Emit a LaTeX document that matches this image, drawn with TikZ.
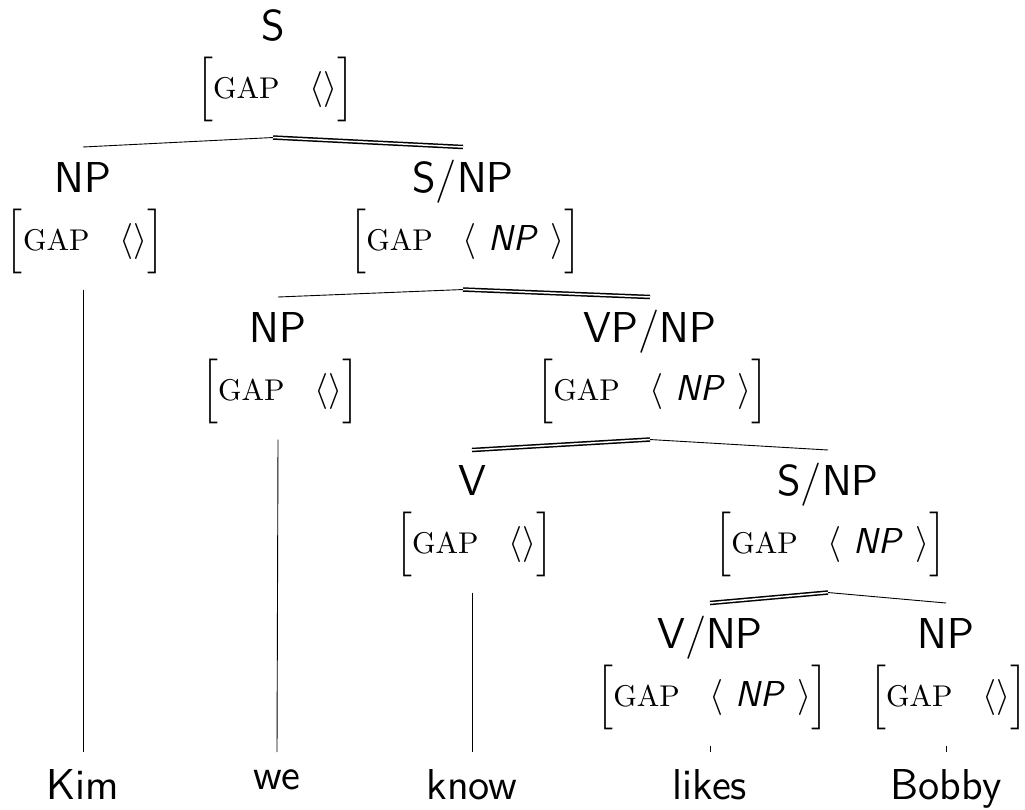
\documentclass[tikz,border=0pt]{standalone}
\usepackage{amsmath}
\usepackage{exscale}
\usetikzlibrary{positioning}

\newcommand{\cat}[1]{\raisebox{0pt}[10pt][0pt]{\fontsize{14.4}{17}\selectfont\sffamily #1}}
\newcommand{\avmgap}[1]{\hspace*{1.5pt}$\Bigl[\text{\fontsize{10}{12}\selectfont GAP}\hspace{10pt}\langle #1\rangle\Bigr]$}
\newcommand{\gapnp}{\ \textsf{\textit{NP}}\ }

\tikzset{
	tnode/.style={align=center, inner xsep=4pt, inner ysep=4.9pt, anchor=north,
		font={\fontsize{12}{19.5}\selectfont\lineskiplimit=-30pt}},
	word/.style={font=\fontsize{14.4}{17}\selectfont\sffamily, inner sep=5.6pt, anchor=north},
	branch/.style={line width=0.3pt},
	head/.style={line width=0.5pt, double, double distance=0.5pt},
}

\begin{document}
\begin{tikzpicture}[x=0.3333pt, y=-0.3333pt]
	\useasboundingbox (0,0) rectangle (1025,809);
	% phrase nodes
	\node[tnode] (s) at (273,-5) {\cat{S}\\\avmgap{}};
	\node[tnode] (np1) at (83,147) {\cat{NP}\\\avmgap{}};
	\node[tnode] (snp1) at (463,147) {\cat{S/NP}\\\avmgap{\gapnp}};
	\node[tnode] (np2) at (278,297) {\cat{NP}\\\avmgap{}};
	\node[tnode] (vpnp) at (650,297) {\cat{VP/NP}\\\avmgap{\gapnp}};
	\node[tnode] (v) at (472,450) {\cat{V}\\\avmgap{}};
	\node[tnode] (snp2) at (828,450) {\cat{S/NP}\\\avmgap{\gapnp}};
	\node[tnode] (vnp) at (710,603) {\cat{V/NP}\\\avmgap{\gapnp}};
	\node[tnode] (np3) at (946,603) {\cat{NP}\\\avmgap{}};
	% words
	\node[word] (kim) at (83,752) {Kim};
	\node[word] (we) at (277,752) {we};
	\node[word] (know) at (472,752) {know};
	\node[word] (likes) at (710,752) {likes};
	\node[word] (bobby) at (946,752) {Bobby};
	% branches, heads doubled
	\draw[branch] (s.south) -- (np1.north);
	\draw[head] (s.south) -- (snp1.north);
	\draw[branch] (snp1.south) -- (np2.north);
	\draw[head] (snp1.south) -- (vpnp.north);
	\draw[head] (vpnp.south) -- (v.north);
	\draw[branch] (vpnp.south) -- (snp2.north);
	\draw[head] (snp2.south) -- (vnp.north);
	\draw[branch] (snp2.south) -- (np3.north);
	\draw[branch] (np1.south) -- (kim.north);
	\draw[branch] (np2.south) -- (we.north);
	\draw[branch] (v.south) -- (know.north);
	\draw[branch] (vnp.south) -- (likes.north);
	\draw[branch] (np3.south) -- (bobby.north);
\end{tikzpicture}
\end{document}
